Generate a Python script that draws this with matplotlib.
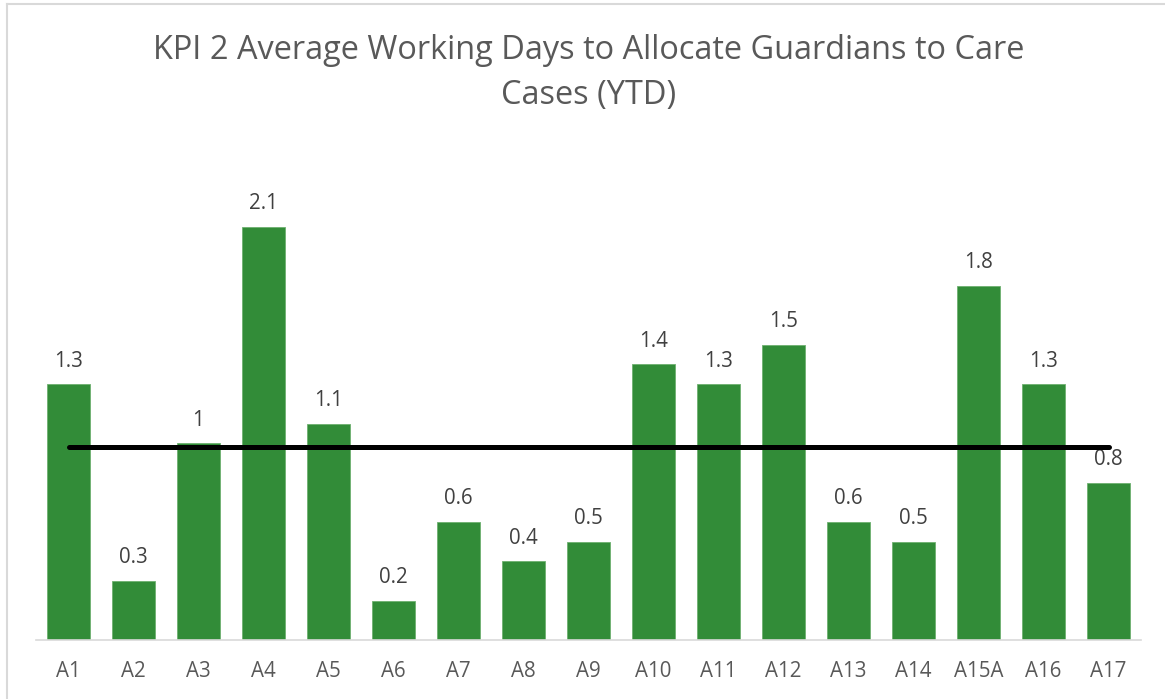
import matplotlib
matplotlib.use("Agg")
import matplotlib.pyplot as plt
from matplotlib.lines import Line2D

categories = ["A1", "A2", "A3", "A4", "A5", "A6", "A7", "A8", "A9", "A10",
              "A11", "A12", "A13", "A14", "A15A", "A16", "A17"]
values = [1.3, 0.3, 1.0, 2.1, 1.1, 0.2, 0.6, 0.4, 0.5, 1.4,
          1.3, 1.5, 0.6, 0.5, 1.8, 1.3, 0.8]
labels = ["1.3", "0.3", "1", "2.1", "1.1", "0.2", "0.6", "0.4", "0.5", "1.4",
          "1.3", "1.5", "0.6", "0.5", "1.8", "1.3", "0.8"]
target = 0.98
title = "KPI 2 Average Working Days to Allocate Guardians to Care\nCases (YTD)"

plt.rcParams['font.family'] = ['Open Sans', 'DejaVu Sans']

W, H = 1165, 699
fig = plt.figure(figsize=(W / 100, H / 100), dpi=100)
fig.patch.set_facecolor("white")

# chart border (top & left visible)
fig.add_artist(Line2D([7 / W, 7 / W], [0, 1 - 4 / H], transform=fig.transFigure,
                      color="#d9d9d9", lw=1.5))
fig.add_artist(Line2D([7 / W, 1], [1 - 4 / H, 1 - 4 / H], transform=fig.transFigure,
                      color="#d9d9d9", lw=1.5))

left, right = 36, 1141
bottom_px, top_px = 640, 148
ax = fig.add_axes([left / W, 1 - bottom_px / H, (right - left) / W, (bottom_px - top_px) / H])

x = list(range(len(categories)))
bars = ax.bar(x, values, width=0.67, color="#328c38", edgecolor="#6db06f", linewidth=0.6)
for xi, v, lab in zip(x, values, labels):
    ax.annotate(lab, (xi, v), xytext=(0, 9), textcoords="offset points",
                ha="center", va="bottom", fontsize=14.8, color="#404040")

ax.plot([x[0], x[-1]], [target, target], color="black", lw=3.6,
        solid_capstyle="round", zorder=5)

ax.set_xlim(-0.5, len(categories) - 0.5)
ax.set_ylim(0, 2.5)
ax.set_yticks([])
ax.set_xticks(x)
ax.set_xticklabels(categories, fontsize=14.8, color="#595959")
ax.tick_params(axis="x", length=0, pad=15)
for s in ["top", "right", "left"]:
    ax.spines[s].set_visible(False)
ax.spines["bottom"].set_color("#d9d9d9")
ax.spines["bottom"].set_linewidth(1.2)

fig.text(589 / W, 1 - 73 / H, title, ha="center", va="center", fontsize=23.4,
         color="#595959", linespacing=1.45)

fig.savefig("out.png", dpi=100)
